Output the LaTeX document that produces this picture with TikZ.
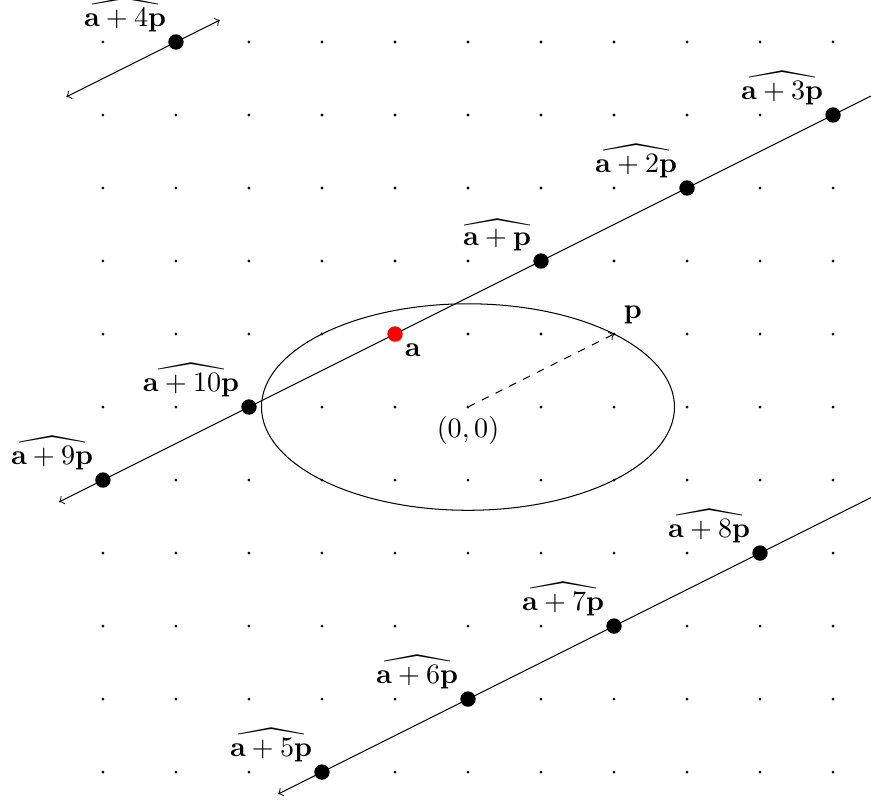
\documentclass[tikz,border=0pt,11pt]{standalone}
\usepackage{amsmath, amssymb, amsfonts}
\usepackage{tikz}
\usetikzlibrary{arrows.meta, calc}
\usepackage{xcolor}

\begin{document}
\begin{tikzpicture}[>=to]
  \useasboundingbox (-6.41,-5.41) rectangle (5.52,5.575);

  \foreach \x in {-5,...,5}
    \foreach \y in {-5,...,5}
      \fill (\x,\y) circle (0.6pt);

  \coordinate (O) at (0,0);
  \coordinate (A) at (-1,1);
  \coordinate (P) at (2,1);
  \coordinate (A1) at (1,2);
  \coordinate (A2) at (3,3);
  \coordinate (A3) at (5,4);
  \coordinate (A4) at (-4,5);
  \coordinate (A5) at (-2,-5);
  \coordinate (A6) at (0,-4);
  \coordinate (A7) at (2,-3);
  \coordinate (A8) at (4,-2);
  \coordinate (A9) at (-5,-1);
  \coordinate (A10) at (-3,0);

  \coordinate (L1) at (-5.6,-1.3);
  \coordinate (R1) at (5.6,4.3);
  \coordinate (L2) at (-5.5,4.25);
  \coordinate (R2) at (-3.4,5.3);
  \coordinate (L3) at (-2.6,-5.3);
  \coordinate (R3) at (5.6,-1.2);

  \draw (O) ellipse ({2*sqrt(2)} and {sqrt(2)});

  \draw[<-] (L1) -- (R1);
  \draw[<->] (L2) -- (R2);
  \draw[<-] (L3) -- (R3);

  \draw[dashed, ->] (O) -- (P) node[above right] (lP) {$\mathbf{p}$};
  \node[below] (lO) at (O) {$(0,0)$};

  \foreach \k/\t in {1/{\mathbf{a}+\mathbf{p}}, 2/{\mathbf{a}+2\mathbf{p}},
      3/{\mathbf{a}+3\mathbf{p}}, 4/{\mathbf{a}+4\mathbf{p}},
      5/{\mathbf{a}+5\mathbf{p}}, 6/{\mathbf{a}+6\mathbf{p}},
      7/{\mathbf{a}+7\mathbf{p}}, 8/{\mathbf{a}+8\mathbf{p}},
      9/{\mathbf{a}+9\mathbf{p}}, 10/{\mathbf{a}+10\mathbf{p}}} {
    \fill (A\k) circle (3pt);
    \node[above left] (lA\k) at (A\k) {$\widehat{\t}$};
  }

  \fill[red] (A) circle (3pt);
  \node[below right] (lA) at (A) {$\mathbf{a}$};
\end{tikzpicture}
\end{document}
